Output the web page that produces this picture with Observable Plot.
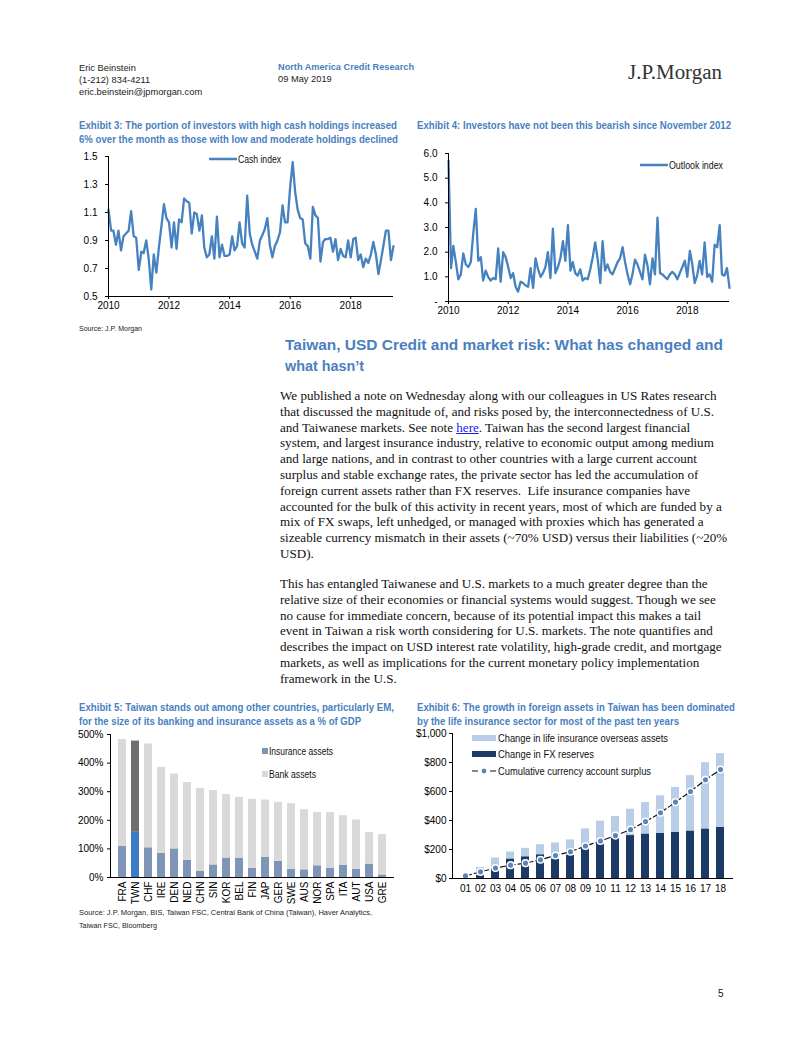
<!DOCTYPE html>
<html><head><meta charset="utf-8">
<script src="https://cdn.jsdelivr.net/npm/d3@7"></script>
<script src="https://cdn.jsdelivr.net/npm/@observablehq/plot@0.6"></script>
<style>
body{margin:0;background:#fff;}
#page{position:relative;width:802px;height:1037px;overflow:hidden;background:#fff;font-family:"Liberation Sans",Arial,sans-serif;color:#111;}
.t{position:absolute;white-space:pre;}
.hd{font-size:9.3px;line-height:12px;color:#222;}
.ttl{font-size:11px;line-height:14px;font-weight:bold;color:#4a7fbf;}
.src{font-size:8px;line-height:10px;color:#222;}
.lg{font-size:10.5px;line-height:12px;color:#111;}
.bd{font-family:"Liberation Serif","Times New Roman",serif;font-size:13.1px;line-height:15.8px;color:#111;}
.bd span.lnk{color:#1a1aee;text-decoration:underline;}
.h2{font-size:15px;line-height:21px;font-weight:bold;color:#4a7fbf;}
svg.sw{display:block;overflow:visible;}
</style></head><body><div id="page">
<div class="t hd" style="left:79px;top:62px">Eric Beinstein</div>
<div class="t hd" style="left:79px;top:74px">(1-212) 834-4211</div>
<div class="t hd" style="left:79px;top:86px">eric.beinstein@jpmorgan.com</div>
<div class="t hd" style="left:278px;top:61px;color:#4a7fbf;font-weight:bold" data-fit="136">North America Credit Research</div>
<div class="t hd" style="left:278px;top:73px">09 May 2019</div>
<div class="t" style="left:628px;top:59px;font-family:'Liberation Serif',serif;font-size:20px;line-height:26px;color:#333" data-fit="94">J.P.Morgan</div>

<div class="t ttl" style="left:79px;top:118px" data-fit="318">Exhibit 3: The portion of investors with high cash holdings increased</div>
<div class="t ttl" style="left:79px;top:132px" data-fit="319">6% over the month as those with low and moderate holdings declined</div>
<div class="t ttl" style="left:417px;top:118px" data-fit="314">Exhibit 4: Investors have not been this bearish since November 2012</div>
<div class="t src" style="left:79px;top:324px" data-fit="63">Source: J.P. Morgan</div>

<div class="t h2" style="left:285px;top:334px" data-fit="438">Taiwan, USD Credit and market risk: What has changed and</div>
<div class="t h2" style="left:285px;top:355px" data-fit="79">what hasn’t</div>

<div class="t ttl" style="left:79px;top:700px" data-fit="315">Exhibit 5: Taiwan stands out among other countries, particularly EM,</div>
<div class="t ttl" style="left:79px;top:714px" data-fit="282">for the size of its banking and insurance assets as a % of GDP</div>
<div class="t ttl" style="left:417px;top:700px" data-fit="318">Exhibit 6: The growth in foreign assets in Taiwan has been dominated</div>
<div class="t ttl" style="left:417px;top:714px" data-fit="262">by the life insurance sector for most of the past ten years</div>
<div class="t src" style="left:79px;top:908px" data-fit="293">Source: J.P. Morgan, BIS, Taiwan FSC, Central Bank of China (Taiwan), Haver Analytics,</div>
<div class="t src" style="left:79px;top:921px" data-fit="78">Taiwan FSC, Bloomberg</div>
<div class="t" style="left:718px;top:988px;font-size:10px;line-height:12px">5</div>
</div>
<script>
// ---------------- DATA ----------------
const cashIndex = [1.12,0.97,0.97,0.87,0.97,0.83,0.93,0.95,0.97,1.11,
0.93,0.92,0.69,0.82,0.81,0.90,0.77,0.55,0.80,0.67,
0.85,1.00,1.16,1.06,1.03,0.85,1.03,0.84,1.05,1.03,
1.20,1.18,1.17,0.95,1.10,1.09,0.97,1.08,0.85,0.78,
0.80,0.93,0.77,1.07,0.78,0.87,0.79,0.79,0.80,0.93,
0.83,0.86,1.03,0.88,0.85,1.22,0.95,0.87,0.82,0.77,
0.90,0.94,0.98,1.06,0.87,0.78,0.86,0.90,0.96,1.15,
1.03,1.03,1.28,1.46,1.25,1.12,1.06,1.05,0.88,0.86,
0.77,1.14,1.08,1.06,0.75,0.89,0.91,0.91,0.92,0.82,
0.91,0.76,0.84,0.79,0.78,0.90,0.78,0.91,0.92,0.76,
0.80,0.71,0.77,0.74,0.80,0.89,0.80,0.66,0.76,0.87,
0.97,0.97,0.76,0.86];
const outlookIndex = [5.7,1.35,2.25,1.6,0.9,1.1,1.95,1.5,1.4,1.6,
2.8,3.75,1.65,1.8,0.85,1.25,1.0,0.85,0.95,0.9,
2.15,0.8,2.0,1.8,1.4,0.95,1.15,0.6,0.4,0.8,
0.75,0.65,0.6,1.35,0.55,1.75,1.3,1.0,1.15,1.4,
2.0,0.95,2.95,1.15,1.4,1.75,2.45,1.65,3.1,1.25,
1.6,1.15,1.05,1.3,0.85,0.95,0.9,1.3,1.8,2.4,
1.7,0.75,2.45,1.25,1.5,1.2,1.1,1.35,1.6,1.75,
2.2,1.6,1.1,0.7,1.1,1.7,1.5,1.2,0.9,1.9,
1.45,0.7,1.75,1.1,3.4,1.15,1.1,1.0,0.9,1.1,
1.2,1.1,0.9,1.15,1.4,1.65,1.0,2.05,1.55,0.75,
1.05,1.65,1.1,2.4,1.0,1.1,0.8,2.3,2.2,3.1,
1.1,1.05,1.35,0.55];
const lineStartYear = 2010;
const yearTicks = [2010,2012,2014,2016,2018];

const ex5Countries = ["FRA","TWN","CHF","IRE","DEN","NED","CHN","SIN","KOR","BEL","FIN","JAP","GER","SWE","AUS","NOR","SPA","ITA","AUT","USA","GRE"];
const ex5Insurance = [109,158,104,84,100,60,21,44,68,68,32,70,56,29,27,41,33,43,29,47,9];
const ex5Bank      = [373,319,363,301,262,272,290,260,222,212,241,201,207,229,210,186,194,173,172,110,141];

const ex6Years = ["01","02","03","04","05","06","07","08","09","10","11","12","13","14","15","16","17","18"];
const ex6FX      = [0,20,58,135,150,164,135,160,208,242,277,296,307,312,319,328,342,353];
const ex6Life    = [0,56,83,48,58,69,110,106,134,153,150,182,217,258,309,381,457,508];
const ex6Surplus = [18,46,72,92,106,129,159,185,224,259,296,337,393,453,527,600,681,751];

const para1 = [
"We published a note on Wednesday along with our colleagues in US Rates research",
"that discussed the magnitude of, and risks posed by, the interconnectedness of U.S.",
"and Taiwanese markets. See note |here|. Taiwan has the second largest financial",
"system, and largest insurance industry, relative to economic output among medium",
"and large nations, and in contrast to other countries with a large current account",
"surplus and stable exchange rates, the private sector has led the accumulation of",
"foreign current assets rather than FX reserves.  Life insurance companies have",
"accounted for the bulk of this activity in recent years, most of which are funded by a",
"mix of FX swaps, left unhedged, or managed with proxies which has generated a",
"sizeable currency mismatch in their assets (~70% USD) versus their liabilities (~20%",
"USD)."];
const para2 = [
"This has entangled Taiwanese and U.S. markets to a much greater degree than the",
"relative size of their economies or financial systems would suggest. Though we see",
"no cause for immediate concern, because of its potential impact this makes a tail",
"event in Taiwan a risk worth considering for U.S. markets. The note quantifies and",
"describes the impact on USD interest rate volatility, high-grade credit, and mortgage",
"markets, as well as implications for the current monetary policy implementation",
"framework in the U.S."];

// ---------------- HELPERS ----------------
const page = document.getElementById("page");
const D = (y,m) => new Date(Date.UTC(y,m,1));
const FONT = '"Liberation Sans",Arial,sans-serif';
const baseStyle = {background:"transparent", fontFamily:FONT, fontSize:"10px", color:"#000", overflow:"visible"};
const LINE = "#4682c0";
function place(el,x,y){const d=document.createElement("div");d.style.position="absolute";d.style.left=x+"px";d.style.top=y+"px";d.appendChild(el);page.appendChild(d);return d;}
function leftAxisLine(){return (index, scales, values, dims) => {
  const g = d3.create("svg:line").attr("x1",dims.marginLeft+0.5).attr("x2",dims.marginLeft+0.5)
    .attr("y1",dims.marginTop).attr("y2",dims.height-dims.marginBottom).attr("stroke","#000");
  return g.node();};}

// body text lines
function bodyLines(lines, top){
  lines.forEach((ln,i)=>{
    const d=document.createElement("div"); d.className="t bd";
    d.style.left="280px"; d.style.top=(top+i*15.8)+"px";
    const parts = ln.split("|");
    parts.forEach((p,j)=>{ if(j%2===1){const s=document.createElement("span");s.className="lnk";s.textContent=p;d.appendChild(s);} else d.appendChild(document.createTextNode(p)); });
    page.appendChild(d);
  });
}
bodyLines(para1, 388);
bodyLines(para2, 576);

// ---------------- EXHIBIT 3 ----------------
const cashData = cashIndex.map((v,i)=>({date:D(lineStartYear,i), value:v}));
place(Plot.plot({
  width:330, height:175, marginTop:11, marginBottom:24, marginLeft:38, marginRight:7,
  style:baseStyle,
  x:{domain:[D(2010,0),D(2019,5)], ticks:yearTicks.map(y=>D(y,0)), tickFormat:d=>String(d.getUTCFullYear()), tickSize:3, tickPadding:2, label:null},
  y:{domain:[0.5,1.5], ticks:[0.5,0.7,0.9,1.1,1.3,1.5], tickFormat:d=>d.toFixed(1), tickSize:3, tickPadding:8, label:null},
  marks:[
    Plot.lineY(cashData,{x:"date",y:"value",stroke:LINE,strokeWidth:2.3}),
    Plot.ruleX([D(2010,0)],{stroke:"#000"}),
    Plot.ruleY([0.5],{stroke:"#000"})
  ]
}),70,145);

// ---------------- EXHIBIT 4 ----------------
const outlookData = outlookIndex.map((v,i)=>({date:D(lineStartYear,i), value:v}));
place(Plot.plot({
  width:330, height:182, marginTop:10, marginBottom:24, marginLeft:38, marginRight:11,
  style:baseStyle,
  x:{domain:[D(2010,0),D(2019,5)], ticks:yearTicks.map(y=>D(y,0)), tickFormat:d=>String(d.getUTCFullYear()), tickSize:3, tickPadding:2, label:null},
  y:{domain:[0,6], ticks:[0,1,2,3,4,5,6], tickFormat:d=>d===0?"-":d.toFixed(1), tickSize:3, tickPadding:8, label:null},
  marks:[
    Plot.lineY(outlookData,{x:"date",y:"value",stroke:LINE,strokeWidth:2.3}),
    Plot.ruleX([D(2010,0)],{stroke:"#000"}),
    Plot.ruleY([0],{stroke:"#000"})
  ]
}),410,143);

// ---------------- EXHIBIT 5 ----------------
const ex5Rows = [];
ex5Countries.forEach((c,i)=>{
  ex5Rows.push({country:c, type:"Insurance assets", value:ex5Insurance[i]});
  ex5Rows.push({country:c, type:"Bank assets", value:ex5Bank[i]});
});
const ex5Color = d => d.country==="TWN" ? (d.type==="Insurance assets"?"#3b7cc6":"#6e6e6e") : (d.type==="Insurance assets"?"#7f95b7":"#d9d9d9");
place(Plot.plot({
  width:330, height:184, marginTop:6, marginBottom:35, marginLeft:40, marginRight:6,
  style:baseStyle,
  color:{type:"identity"},
  x:{domain:ex5Countries, padding:0.4, tickRotate:-90, tickSize:0, tickPadding:4, label:null},
  y:{domain:[0,500], ticks:[0,100,200,300,400,500], tickFormat:d=>d+"%", tickSize:3, tickPadding:4, label:null},
  marks:[
    Plot.barY(ex5Rows,{x:"country", y:"value", fill:ex5Color}),
    Plot.ruleY([0],{stroke:"#000"}),
    leftAxisLine()
  ]
}),70,728);

// ---------------- EXHIBIT 6 ----------------
const ex6Rows = [];
ex6Years.forEach((yr,i)=>{
  ex6Rows.push({year:yr, type:"Change in FX reserves", value:ex6FX[i]});
  ex6Rows.push({year:yr, type:"Change in life insurance overseas assets", value:ex6Life[i]});
});
const ex6Line = ex6Years.map((yr,i)=>({year:yr, value:ex6Surplus[i]}));
place(Plot.plot({
  width:330, height:170, marginTop:5, marginBottom:20, marginLeft:42, marginRight:7,
  style:baseStyle,
  color:{type:"identity"},
  x:{domain:ex6Years, paddingInner:0.5, paddingOuter:0.05, tickSize:0, tickPadding:6, label:null},
  y:{domain:[0,1000], ticks:[0,200,400,600,800,1000], tickFormat:d=>"$"+d3.format(",")(d), tickSize:3, tickPadding:3, label:null},
  marks:[
    Plot.barY(ex6Rows,{x:"year", y:"value", fill:d=>d.type==="Change in FX reserves"?"#1c3a66":"#b9cde6"}),
    Plot.lineY(ex6Line,{x:"year", y:"value", stroke:"#111", strokeWidth:1.2, strokeDasharray:"6,3"}),
    Plot.dot(ex6Line,{x:"year", y:"value", r:3.3, fill:"#5b84b8", stroke:"#fff", strokeWidth:1.5}),
    Plot.ruleY([0],{stroke:"#000"}),
    leftAxisLine()
  ]
}),410,728);

// ---------------- LEGENDS ----------------
function legendSvg(x,y,w,h,inner){
  const d=document.createElement("div");d.style.position="absolute";d.style.left=x+"px";d.style.top=y+"px";d.style.lineHeight="0";
  d.innerHTML=`<svg class="sw" width="${w}" height="${h}">${inner}</svg>`;page.appendChild(d);
}
function legendText(x,yc,txt,fit){const d=document.createElement("div");d.className="t lg";d.style.left=x+"px";d.style.top=(yc-6)+"px";d.textContent=txt;d.dataset.fit=fit;page.appendChild(d);return d;}
legendSvg(209,157,28,4,`<line x1="0" x2="28" y1="2" y2="2" stroke="${LINE}" stroke-width="2.5"/>`);
legendText(238,159,"Cash index",43);
legendSvg(640,163,28,4,`<line x1="0" x2="28" y1="2" y2="2" stroke="${LINE}" stroke-width="2.5"/>`);
legendText(669,165,"Outlook index",54);
legendSvg(262,748,6,6,`<rect width="6" height="6" fill="#7f95b7"/>`);
legendText(269,751,"Insurance assets",64);
legendSvg(262,771,6,6,`<rect width="6" height="6" fill="#d9d9d9"/>`);
legendText(269,774,"Bank assets",47);
legendSvg(472,735,24,6,`<rect width="24" height="6" fill="#b9cde6"/>`);
legendText(498,738,"Change in life insurance overseas assets",170);
legendSvg(472,751,24,6,`<rect width="24" height="6" fill="#1c3a66"/>`);
legendText(498,754,"Change in FX reserves",96);
legendSvg(472,767,24,8,`<line x1="0" x2="24" y1="4" y2="4" stroke="#111" stroke-width="1.2" stroke-dasharray="6,3"/><circle cx="12" cy="4" r="3" fill="#5b84b8" stroke="#fff" stroke-width="1.2"/>`);
legendText(498,771,"Cumulative currency account surplus",153);

// ---------------- FIT TEXT WIDTHS ----------------
document.querySelectorAll("[data-fit]").forEach(el=>{
  const w = el.getBoundingClientRect().width;
  const t = +el.dataset.fit;
  if (w>0){ el.style.transformOrigin="left center"; el.style.transform=`scaleX(${t/w})`; }
});
</script></body></html>
